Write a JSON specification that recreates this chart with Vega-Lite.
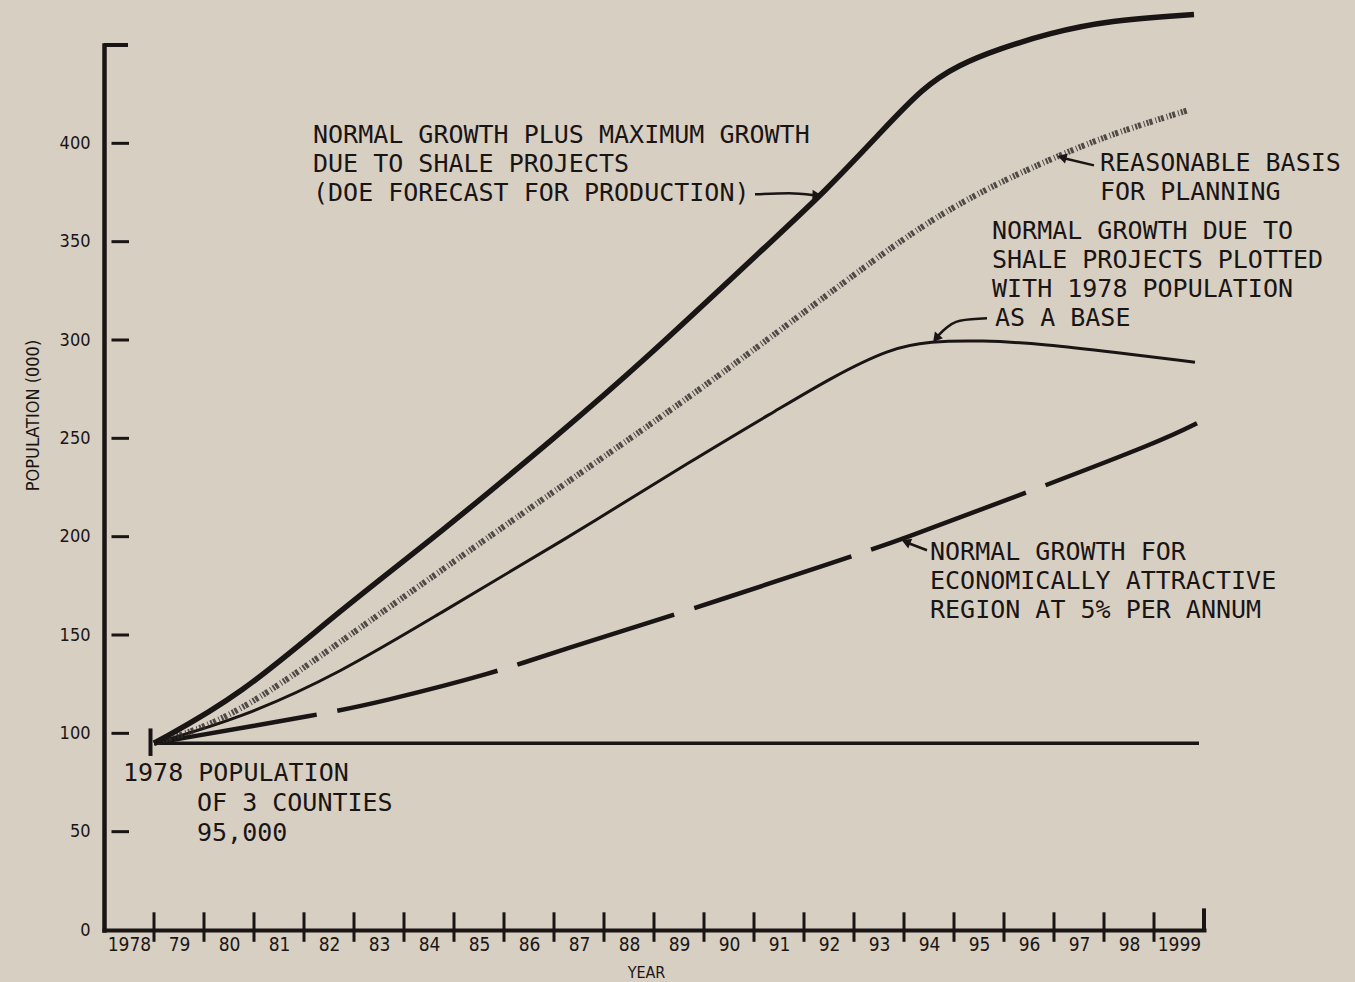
{
  "$schema": "https://vega.github.io/schema/vega-lite/v6.json",
  "width": 1100,
  "height": 885,
  "autosize": "none",
  "padding": {"left": 104, "top": 45, "right": 151, "bottom": 52},
  "background": "#d8cfc3",
  "config": {"view": {"stroke": null}},
  "datasets": {
    "curves": [
      {"series": "base", "year": 1978, "value": 95},
      {"series": "base", "year": 1998.9, "value": 95},
      {"series": "dash", "year": 1978, "value": 95},
      {"series": "dash", "year": 1981.48, "value": 110.3},
      {"series": "dash", "year": 1982.52, "value": 115.9},
      {"series": "dash", "year": 1984.8, "value": 130.6},
      {"series": "dash", "year": 1986.12, "value": 142.3},
      {"series": "dash", "year": 1988.52, "value": 161.1},
      {"series": "dash", "year": 1991.66, "value": 187.5},
      {"series": "dash", "year": 1992.92, "value": 198.2},
      {"series": "dash", "year": 1995.42, "value": 222.1},
      {"series": "dash", "year": 1998.18, "value": 249.0},
      {"series": "dash", "year": 1998.86, "value": 257.7},
      {"series": "shale", "year": 1978, "value": 95},
      {"series": "shale", "year": 1979.72, "value": 107.5},
      {"series": "shale", "year": 1981.72, "value": 130.6},
      {"series": "shale", "year": 1983.72, "value": 161.1},
      {"series": "shale", "year": 1986.12, "value": 197},
      {"series": "shale", "year": 1988.86, "value": 240.4},
      {"series": "shale", "year": 1990.52, "value": 265.3},
      {"series": "shale", "year": 1991.52, "value": 280.5},
      {"series": "shale", "year": 1992.72, "value": 295.8},
      {"series": "shale", "year": 1993.52, "value": 299.3},
      {"series": "shale", "year": 1994.52, "value": 299.9},
      {"series": "shale", "year": 1995.86, "value": 297.8},
      {"series": "shale", "year": 1997.18, "value": 293.8},
      {"series": "shale", "year": 1998.82, "value": 288.7},
      {"series": "plan", "year": 1978, "value": 95},
      {"series": "plan", "year": 1979.52, "value": 106.7},
      {"series": "plan", "year": 1981.72, "value": 146.4},
      {"series": "plan", "year": 1983.78, "value": 183.5},
      {"series": "plan", "year": 1986.12, "value": 225.2},
      {"series": "plan", "year": 1989.12, "value": 278.0},
      {"series": "plan", "year": 1991.92, "value": 331.9},
      {"series": "plan", "year": 1993.86, "value": 367.5},
      {"series": "plan", "year": 1995.86, "value": 391.4},
      {"series": "plan", "year": 1997.18, "value": 405.1},
      {"series": "plan", "year": 1998.68, "value": 416.8},
      {"series": "max", "year": 1978, "value": 95},
      {"series": "max", "year": 1979.72, "value": 119},
      {"series": "max", "year": 1981.72, "value": 162.6},
      {"series": "max", "year": 1983.72, "value": 201.8},
      {"series": "max", "year": 1986.12, "value": 252.6},
      {"series": "max", "year": 1987.66, "value": 286.2},
      {"series": "max", "year": 1990.52, "value": 354.3},
      {"series": "max", "year": 1991.38, "value": 374.6},
      {"series": "max", "year": 1992.52, "value": 405.1},
      {"series": "max", "year": 1993.38, "value": 428.5},
      {"series": "max", "year": 1994.1, "value": 440},
      {"series": "max", "year": 1994.9, "value": 448},
      {"series": "max", "year": 1995.9, "value": 456},
      {"series": "max", "year": 1997.1, "value": 462.5},
      {"series": "max", "year": 1998.8, "value": 465.5}
    ],
    "xticks": [
      {"year": 1978}, {"year": 1979}, {"year": 1980}, {"year": 1981}, {"year": 1982},
      {"year": 1983}, {"year": 1984}, {"year": 1985}, {"year": 1986}, {"year": 1987},
      {"year": 1988}, {"year": 1989}, {"year": 1990}, {"year": 1991}, {"year": 1992},
      {"year": 1993}, {"year": 1994}, {"year": 1995}, {"year": 1996}, {"year": 1997},
      {"year": 1998}
    ],
    "yticks": [
      {"value": 50}, {"value": 100}, {"value": 150}, {"value": 200},
      {"value": 250}, {"value": 300}, {"value": 350}, {"value": 400}
    ],
    "caps": [
      {"year": 1977, "year2": 1977.48, "value": 450, "value2": 450},
      {"year": 1999, "year2": 1999, "value": 0, "value2": 11},
      {"year": 1977.93, "year2": 1977.93, "value": 88.5, "value2": 102.5}
    ],
    "arrows": [
      {"id": "a1", "year": 1990.02, "value": 374.1},
      {"id": "a1", "year": 1990.7, "value": 374.6},
      {"id": "a1", "year": 1991.2, "value": 373.6},
      {"id": "a2", "year": 1996.8, "value": 388.8},
      {"id": "a2", "year": 1996.2, "value": 392.4},
      {"id": "a3", "year": 1994.66, "value": 311.0},
      {"id": "a3", "year": 1994.12, "value": 309.8},
      {"id": "a3", "year": 1993.78, "value": 304.7},
      {"id": "a3", "year": 1993.66, "value": 301.5},
      {"id": "a4", "year": 1993.46, "value": 193.1},
      {"id": "a4", "year": 1993.08, "value": 196.8}
    ],
    "heads": [
      {"year": 1991.26, "value": 373.6, "angle": 92},
      {"year": 1996.16, "value": 392.9, "angle": 285},
      {"year": 1993.64, "value": 300.8, "angle": 220},
      {"year": 1993.04, "value": 197.3, "angle": 292}
    ],
    "notes": [
      {"text": "NORMAL GROWTH PLUS MAXIMUM GROWTH", "year": 1981.18, "value": 404.1},
      {"text": "DUE TO SHALE PROJECTS", "year": 1981.18, "value": 389.3},
      {"text": "(DOE FORECAST FOR PRODUCTION)", "year": 1981.18, "value": 374.6},
      {"text": "REASONABLE BASIS", "year": 1996.92, "value": 389.8},
      {"text": "FOR PLANNING", "year": 1996.92, "value": 375.1},
      {"text": "NORMAL GROWTH DUE TO", "year": 1994.76, "value": 355.3},
      {"text": "SHALE PROJECTS PLOTTED", "year": 1994.76, "value": 340.5},
      {"text": "WITH 1978 POPULATION", "year": 1994.76, "value": 325.8},
      {"text": "AS A BASE", "year": 1994.82, "value": 311.0},
      {"text": "NORMAL GROWTH FOR", "year": 1993.52, "value": 192.1},
      {"text": "ECONOMICALLY ATTRACTIVE", "year": 1993.52, "value": 177.4},
      {"text": "REGION AT 5% PER ANNUM", "year": 1993.52, "value": 162.6},
      {"text": "1978 POPULATION", "year": 1977.38, "value": 79.8},
      {"text": "OF 3 COUNTIES", "year": 1978.86, "value": 64.5},
      {"text": "95,000", "year": 1978.86, "value": 49.3}
    ]
  },
  "layer": [
    {
      "data": {"name": "curves"},
      "transform": [{"filter": "datum.series == 'base'"}],
      "mark": {"type": "line", "color": "#1a1515", "strokeWidth": 3.5},
      "encoding": {
        "x": {
          "field": "year", "type": "quantitative",
          "scale": {"domain": [1977, 1999], "nice": false, "zero": false},
          "axis": {
            "title": "YEAR",
            "values": [1978, 1979, 1980, 1981, 1982, 1983, 1984, 1985, 1986, 1987, 1988, 1989, 1990, 1991, 1992, 1993, 1994, 1995, 1996, 1997, 1998, 1999],
            "format": "d",
            "labelExpr": "datum.value == 1978 || datum.value == 1999 ? datum.label : substring(datum.label, 2)",
            "labelOffset": -25,
            "labelFlush": false,
            "labelOverlap": false,
            "labelPadding": 5,
            "labelFont": "Liberation Sans Narrow, DejaVu Sans Condensed, DejaVu Sans, sans-serif",
            "labelFontSize": 19,
            "labelColor": "#1a1515",
            "ticks": false,
            "grid": false,
            "domainColor": "#1a1515",
            "domainWidth": 4,
            "domainCap": "square",
            "titleFont": "Liberation Sans Narrow, DejaVu Sans Condensed, DejaVu Sans, sans-serif",
            "titleFontSize": 16,
            "titleFontWeight": "normal",
            "titleColor": "#1a1515",
            "titleX": 542,
            "titleY": 42,
            "titleBaseline": "middle",
            "titleAlign": "center"
          }
        },
        "y": {
          "field": "value", "type": "quantitative",
          "scale": {"domain": [0, 450], "nice": false},
          "axis": {
            "title": "POPULATION (000)",
            "values": [0, 50, 100, 150, 200, 250, 300, 350, 400],
            "labelPadding": 14,
            "labelFont": "Liberation Sans Narrow, DejaVu Sans Condensed, DejaVu Sans, sans-serif",
            "labelFontSize": 18,
            "labelColor": "#1a1515",
            "ticks": false,
            "grid": false,
            "domainColor": "#1a1515",
            "domainWidth": 4.5,
            "domainCap": "square",
            "titleFont": "Liberation Sans Narrow, DejaVu Sans Condensed, DejaVu Sans, sans-serif",
            "titleFontSize": 18,
            "titleFontWeight": "normal",
            "titleColor": "#1a1515",
            "titleX": -71,
            "titleY": 370,
            "titleBaseline": "middle",
            "titleAlign": "center",
            "titleAngle": 270
          }
        }
      }
    },
    {
      "data": {"name": "curves"},
      "transform": [{"filter": "datum.series == 'dash'"}],
      "mark": {"type": "line", "color": "#1a1515", "strokeWidth": 4.5, "strokeDash": [165, 21], "interpolate": "basis"},
      "encoding": {
        "x": {"field": "year", "type": "quantitative"},
        "y": {"field": "value", "type": "quantitative"}
      }
    },
    {
      "data": {"name": "curves"},
      "transform": [{"filter": "datum.series == 'shale'"}],
      "mark": {"type": "line", "color": "#1a1515", "strokeWidth": 3, "interpolate": "basis"},
      "encoding": {
        "x": {"field": "year", "type": "quantitative"},
        "y": {"field": "value", "type": "quantitative"}
      }
    },
    {
      "data": {"name": "curves"},
      "transform": [{"filter": "datum.series == 'plan'"}],
      "mark": {"type": "line", "color": "#2e2828", "opacity": 0.8, "strokeWidth": 6, "strokeDash": [2, 1, 3, 3, 1, 2], "interpolate": "basis"},
      "encoding": {
        "x": {"field": "year", "type": "quantitative"},
        "y": {"field": "value", "type": "quantitative"}
      }
    },
    {
      "data": {"name": "curves"},
      "transform": [{"filter": "datum.series == 'max'"}],
      "mark": {"type": "line", "color": "#1a1515", "strokeWidth": 5.5, "interpolate": "basis"},
      "encoding": {
        "x": {"field": "year", "type": "quantitative"},
        "y": {"field": "value", "type": "quantitative"}
      }
    },
    {
      "data": {"name": "xticks"},
      "mark": {"type": "rule", "color": "#1a1515", "strokeWidth": 3},
      "encoding": {
        "x": {"field": "year", "type": "quantitative"},
        "y": {"datum": -6, "type": "quantitative"},
        "y2": {"datum": 9}
      }
    },
    {
      "data": {"name": "yticks"},
      "mark": {"type": "rule", "color": "#1a1515", "strokeWidth": 3},
      "encoding": {
        "y": {"field": "value", "type": "quantitative"},
        "x": {"datum": 1977.15, "type": "quantitative"},
        "x2": {"datum": 1977.5}
      }
    },
    {
      "data": {"name": "caps"},
      "mark": {"type": "rule", "color": "#1a1515", "strokeWidth": 4},
      "encoding": {
        "x": {"field": "year", "type": "quantitative"},
        "x2": {"field": "year2"},
        "y": {"field": "value", "type": "quantitative"},
        "y2": {"field": "value2"}
      }
    },
    {
      "data": {"name": "arrows"},
      "mark": {"type": "line", "color": "#1a1515", "strokeWidth": 2.5, "interpolate": "monotone"},
      "encoding": {
        "x": {"field": "year", "type": "quantitative"},
        "y": {"field": "value", "type": "quantitative"},
        "detail": {"field": "id"}
      }
    },
    {
      "data": {"name": "heads"},
      "mark": {"type": "point", "shape": "triangle-up", "filled": true, "color": "#1a1515", "opacity": 1, "size": 110},
      "encoding": {
        "x": {"field": "year", "type": "quantitative"},
        "y": {"field": "value", "type": "quantitative"},
        "angle": {"field": "angle", "type": "quantitative", "scale": null}
      }
    },
    {
      "data": {"name": "notes"},
      "mark": {"type": "text", "align": "left", "baseline": "middle", "font": "DejaVu Sans Mono", "fontSize": 25, "color": "#1a1515"},
      "encoding": {
        "x": {"field": "year", "type": "quantitative"},
        "y": {"field": "value", "type": "quantitative"},
        "text": {"field": "text"}
      }
    }
  ]
}
